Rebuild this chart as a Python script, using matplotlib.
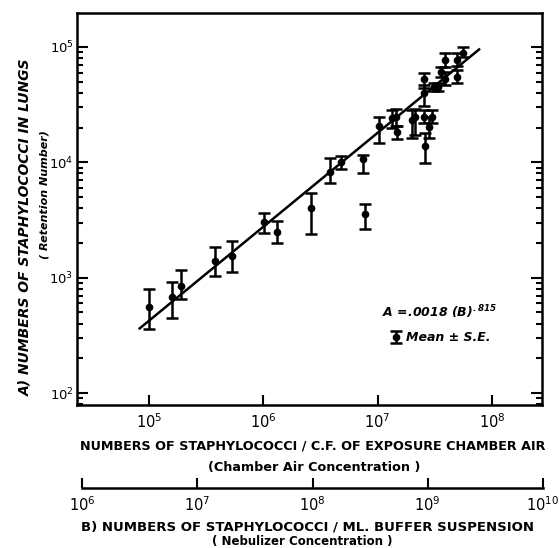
import numpy as np
import matplotlib
matplotlib.use("Agg")
import matplotlib.pyplot as plt

plt.rcParams['font.family'] = ['DejaVu Sans']
plt.rcParams['mathtext.default'] = 'regular'

# chamber air concentration (organisms / cu. ft.)
chamber_air = [1.0e5, 1.6e5, 1.89e5, 3.8e5, 5.3e5, 1.01e6, 1.33e6, 2.6e6, 3.8e6,
               4.8e6, 7.4e6, 7.8e6, 1.03e7, 1.34e7, 1.46e7, 1.48e7, 1.98e7, 2.11e7,
               2.53e7, 2.53e7, 2.53e7, 2.59e7, 2.82e7, 2.96e7, 3.1e7, 3.38e7,
               3.55e7, 3.87e7, 3.87e7, 4.9e7, 4.9e7, 5.58e7]
# retention number (mean)
retention = [560, 675, 850, 1390, 1540, 3050, 2500, 4040, 8190,
             10100, 10600, 3560, 20600, 24100, 24600, 18400, 23300, 24600,
             52500, 39600, 24800, 13800, 20400, 24800, 44700, 44700,
             61100, 77100, 52500, 77100, 54600, 89300]
# mean + S.E. and mean - S.E.
se_high = [796, 921, 1160, 1850, 2090, 3610, 3110, 5450, 11000,
           11300, 11600, 4350, 24800, 28500, 28800, 20600, 28500, 28800,
           59800, 46800, 28500, 17800, 24600, 28500, 48400, 48400,
           67500, 89300, 61100, 88000, 63200, 100600]
se_low = [358, 444, 652, 1040, 1110, 2420, 1980, 2390, 6570,
          8700, 8030, 2620, 14800, 19700, 20600, 15800, 16100, 17200,
          43800, 30800, 21800, 9930, 16100, 22000, 41800, 41800,
          55200, 67500, 46800, 68400, 49000, 82400]

# regression A = .0018 (B)^.815, B = nebulizer concentration
coef = 0.0018
power = 0.815
nebulizer_per_air = 10 ** 1.59   # B per unit chamber air concentration
fit_range = [8.3e4, 7.7e7]

x = np.array(chamber_air)
y = np.array(retention)
yerr = [y - np.array(se_low), np.array(se_high) - y]

fig = plt.figure(figsize=(5.59, 5.48), dpi=100)
ax = fig.add_axes([0.1377, 0.2609, 0.832, 0.7154])

fx = np.logspace(np.log10(fit_range[0]), np.log10(fit_range[1]), 50)
ax.plot(fx, coef * (fx * nebulizer_per_air) ** power, color='black', lw=1.8)

eb = ax.errorbar(x, y, yerr=yerr, fmt='o', color='black', ms=4.5,
                 elinewidth=1.8, capsize=4, capthick=1.8)

ax.set_xscale('log')
ax.set_yscale('log')
ax.set_xlim(2.35e4, 2.735e8)
ax.set_ylim(78.7, 1.97e5)

for s in ax.spines.values():
    s.set_linewidth(1.8)

ax.tick_params(axis='y', which='both', direction='in', right=True, left=True,
               width=1.5, labelsize=9.5, pad=2.5)
ax.tick_params(axis='y', which='major', length=8)
ax.tick_params(axis='y', which='minor', length=4.5)
ax.tick_params(axis='x', which='major', direction='in', length=7, width=1.5,
               labelsize=10.5, pad=5, top=False)
ax.tick_params(axis='x', which='minor', bottom=False, top=False)

ax.text(0.656, 0.237, 'A =.0018 (B)$^{.815}$', transform=ax.transAxes,
        fontsize=9, fontweight='bold', style='italic', ha='left', va='center')
ax.legend([eb], ['Mean ± S.E.'], loc='center left', bbox_to_anchor=(0.665, 0.171),
          frameon=False, handlelength=0.6, handletextpad=0.5, borderpad=0,
          prop={'size': 9, 'weight': 'bold', 'style': 'italic'})

ax.set_ylabel('A) NUMBERS OF STAPHYLOCOCCI IN LUNGS', fontsize=10,
              fontweight='bold', style='italic')
ax.yaxis.set_label_coords(-0.0968, 0.454)
ax.text(-0.0688, 0.538, '( Retention Number)', transform=ax.transAxes, rotation=90,
        fontsize=8, fontweight='bold', style='italic', ha='center', va='center')

fig.text(0.56, 1 - 446 / 548, 'NUMBERS OF STAPHYLOCOCCI / C.F. OF EXPOSURE CHAMBER AIR',
         ha='center', va='center', fontsize=9.2, fontweight='bold')
fig.text(0.562, 1 - 467 / 548, '(Chamber Air Concentration )',
         ha='center', va='center', fontsize=9.2, fontweight='bold')

# nebulizer concentration scale
bx = fig.add_axes([82 / 559, 1 - 488 / 548, 461 / 559, 0.0001])
bx.set_xscale('log')
bx.set_xlim(1e6, 1e10)
bx.set_yticks([])
for side in ['left', 'right', 'top']:
    bx.spines[side].set_visible(False)
bx.spines['bottom'].set_linewidth(1.8)
bx.set_xticks([1e6, 1e7, 1e8, 1e9, 1e10])
bx.tick_params(axis='x', which='major', direction='in', length=7, width=1.5,
               labelsize=10.5, pad=5)
bx.tick_params(axis='x', which='minor', bottom=False)
bx.patch.set_visible(False)

fig.text(0.55, 1 - 527 / 548, 'B) NUMBERS OF STAPHYLOCOCCI / ML. BUFFER SUSPENSION',
         ha='center', va='center', fontsize=9.5, fontweight='bold')
fig.text(0.54, 1 - 541 / 548, '( Nebulizer Concentration )',
         ha='center', va='center', fontsize=8.5, fontweight='bold')

fig.savefig('out.png', dpi=100)
